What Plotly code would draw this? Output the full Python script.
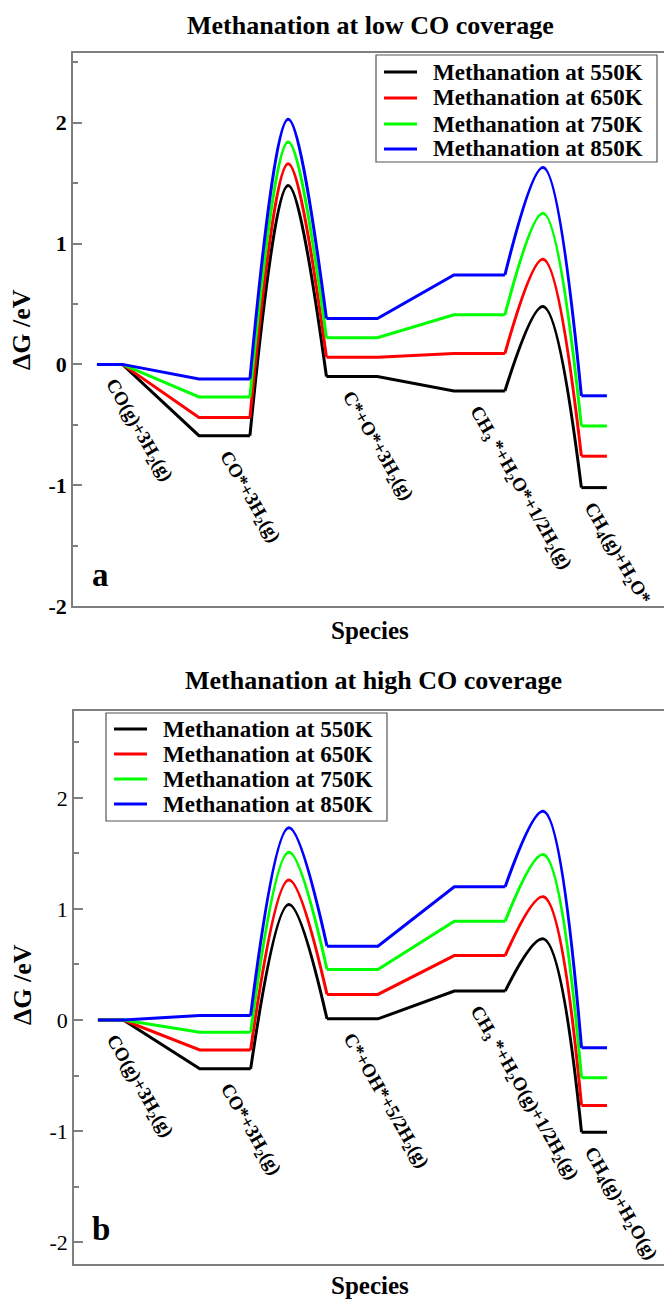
import plotly.graph_objects as go

W, H = 664, 1299

# ---------------- data ----------------
temperatures = ["550K", "650K", "750K", "850K"]
colors = ["#000000", "#ff0000", "#00ff00", "#0000ff"]

# reaction coordinate of each state: flat plateaus and transition-state tops
x_gas = [0, 1]
x_co = [4, 6]
x_ts1 = 7.5
x_c = [9, 11]
x_ch3 = [14, 16]
x_ts2 = 17.5
x_ch4 = [19, 20]

# free energies (eV): [gas, CO*, TS1, C*, CH3*, TS2, CH4]
low_550 = [0.0, -0.59, 1.48, -0.10, -0.22, 0.48, -1.02]
low_650 = [0.0, -0.44, 1.66, 0.06, 0.09, 0.87, -0.76]
low_750 = [0.0, -0.27, 1.84, 0.22, 0.41, 1.25, -0.51]
low_850 = [0.0, -0.12, 2.03, 0.38, 0.74, 1.63, -0.26]

high_550 = [0.0, -0.44, 1.04, 0.01, 0.26, 0.73, -1.01]
high_650 = [0.0, -0.27, 1.26, 0.23, 0.58, 1.11, -0.77]
high_750 = [0.0, -0.11, 1.51, 0.455, 0.89, 1.49, -0.52]
high_850 = [0.0, 0.04, 1.73, 0.665, 1.20, 1.88, -0.25]

low_labels = ["CO(g)+3H<sub>2</sub>(g)", "CO*+3H<sub>2</sub>(g)", "C*+O*+3H<sub>2</sub>(g)",
              "CH<sub>3</sub> *+H<sub>2</sub>O*+1/2H<sub>2</sub>(g)", "CH<sub>4</sub>(g)+H<sub>2</sub>O*"]
high_labels = ["CO(g)+3H<sub>2</sub>(g)", "CO*+3H<sub>2</sub>(g)", "C*+OH*+5/2H<sub>2</sub>(g)",
               "CH<sub>3</sub> *+H<sub>2</sub>O(g)+1/2H<sub>2</sub>(g)", "CH<sub>4</sub>(g)+H<sub>2</sub>O(g)"]

y_ticks = [-2, -1, 0, 1, 2]
y_tick_labels = ["-2", "-1", "0", "1", "2"]
y_minor = [-1.5, -0.5, 0.5, 1.5, 2.5]

FONT = "Liberation Serif"

fig = go.Figure()


def add_profile(E, color, name, xa, ya):
    lx = x_gas + x_co + [None] + x_c + x_ch3 + [None] + x_ch4
    ly = [E[0], E[0], E[1], E[1], None, E[3], E[3], E[4], E[4], None, E[6], E[6]]
    fig.add_trace(go.Scatter(x=lx, y=ly, mode="lines", line=dict(color=color, width=3),
                             name=name, showlegend=False, xaxis=xa, yaxis=ya, connectgaps=False))
    fig.add_trace(go.Scatter(x=[x_co[1], x_ts1, x_c[0]], y=[E[1], E[2], E[3]], mode="lines",
                             line=dict(color=color, width=3, shape="spline", smoothing=1.0),
                             name=name, showlegend=False, xaxis=xa, yaxis=ya))
    fig.add_trace(go.Scatter(x=[x_ch3[1], x_ts2, x_ch4[0]], y=[E[4], E[5], E[6]], mode="lines",
                             line=dict(color=color, width=3, shape="spline", smoothing=1.0),
                             name=name, showlegend=False, xaxis=xa, yaxis=ya))


for E, c, t in zip([low_550, low_650, low_750, low_850], colors, temperatures):
    add_profile(E, c, "Methanation at " + t, "x", "y")
for E, c, t in zip([high_550, high_650, high_750, high_850], colors, temperatures):
    add_profile(E, c, "Methanation at " + t, "x2", "y2")


def px(x):
    return x / W


def py(y):
    return 1 - y / H


axis_grey = "#7f7f7f"
xcommon = dict(range=[-0.94, 22.24], showline=True, mirror=True, linecolor=axis_grey, linewidth=1.5,
               showticklabels=False, ticks="", showgrid=False, zeroline=False)
ycommon = dict(showline=True, linecolor=axis_grey, linewidth=1.5, showgrid=False, zeroline=False,
               tickmode="array", tickvals=y_ticks, ticktext=y_tick_labels,
               ticks="inside", ticklen=9, tickwidth=1.5, tickcolor=axis_grey,
               minor=dict(tickmode="array", tickvals=y_minor, ticks="inside", ticklen=5,
                          tickwidth=1.5, tickcolor=axis_grey))

fig.update_layout(
    width=W, height=H, margin=dict(l=0, r=0, t=0, b=0, autoexpand=False),
    paper_bgcolor="white", plot_bgcolor="white", showlegend=False,
    xaxis=dict(domain=[px(73), 1], anchor="y", **xcommon),
    xaxis2=dict(domain=[px(74), 1], anchor="y2", **xcommon),
    yaxis=dict(domain=[py(606), py(52.7)], anchor="x", range=[-2, 2.58],
               tickfont=dict(family=FONT, size=22, color="black", weight="bold"), **ycommon),
    yaxis2=dict(domain=[py(1264.3), py(710.7)], anchor="x2", range=[-2.2, 2.785],
                tickfont=dict(family=FONT, size=22, color="black"), **ycommon),
)

ann = []
shapes = []
bold = dict(family=FONT, color="black", weight="bold")

# titles
ann.append(dict(text="Methanation at low CO coverage", x=px(370), y=py(25), xref="paper", yref="paper",
                showarrow=False, font=dict(size=26, **bold), xanchor="center", yanchor="middle"))
ann.append(dict(text="Methanation at high CO coverage", x=px(373), y=py(680), xref="paper", yref="paper",
                showarrow=False, font=dict(size=26, **bold), xanchor="center", yanchor="middle"))
# axis titles
for yy in (630, 1285):
    ann.append(dict(text="Species", x=px(370), y=py(yy), xref="paper", yref="paper",
                    showarrow=False, font=dict(size=25, **bold), xanchor="center", yanchor="middle"))
for yy in (330, 985):
    ann.append(dict(text="ΔG /eV", x=px(22), y=py(yy), xref="paper", yref="paper", textangle=-90,
                    showarrow=False, font=dict(size=26, **bold), xanchor="center", yanchor="middle"))
# panel letters
ann.append(dict(text="a", x=px(100), y=py(575), xref="paper", yref="paper", showarrow=False,
                font=dict(size=33, **bold), xanchor="center", yanchor="middle"))
ann.append(dict(text="b", x=px(101), y=py(1229), xref="paper", yref="paper", showarrow=False,
                font=dict(size=33, **bold), xanchor="center", yanchor="middle"))

# legends (box, line samples, texts)
for (bx0, by0, bx1, by1, rows) in ((376, 55, 657, 162, [72, 98, 124, 149]),
                                   (106, 713, 387, 821, [729, 754, 779, 804])):
    shapes.append(dict(type="rect", xref="paper", yref="paper", x0=px(bx0), x1=px(bx1),
                       y0=py(by1), y1=py(by0), line=dict(color="#555555", width=1.2),
                       fillcolor="white", layer="above"))
    for t, c, ry in zip(temperatures, colors, rows):
        shapes.append(dict(type="line", xref="paper", yref="paper", x0=px(bx0 + 8), x1=px(bx0 + 41),
                           y0=py(ry), y1=py(ry), line=dict(color=c, width=3), layer="above"))
        ann.append(dict(text="Methanation at " + t, x=px(bx0 + 55), y=py(ry), xref="paper", yref="paper",
                        showarrow=False, xanchor="left", yanchor="middle",
                        font=dict(size=23, **bold)))

# species labels, hung beneath the lowest (550 K) plateau of each state
state_x = [x_gas[0], x_co[0], x_c[0], x_ch3[0], x_ch4[0]]
low_y = [low_550[0], low_550[1], low_550[3], low_550[4], low_550[6]]
high_y = [high_550[0], high_550[1], high_550[3], high_550[4], high_550[6]]
xshifts = [0, 12, 7, 7, -6]
for labels, ys, xr, yr in ((low_labels, low_y, "x", "y"), (high_labels, high_y, "x2", "y2")):
    for lab, xs, yv, sh in zip(labels, state_x, ys, xshifts):
        ann.append(dict(text=lab, x=xs, y=yv, xref=xr, yref=yr, showarrow=False, textangle=60,
                        xanchor="left", yanchor="top", xshift=sh, yshift=-8,
                        font=dict(size=19, **bold)))

fig.update_layout(annotations=ann, shapes=shapes)
fig.write_html("out.html", config={"displayModeBar": False},
               post_script="document.body.style.margin='0';document.body.style.overflow='hidden';")
